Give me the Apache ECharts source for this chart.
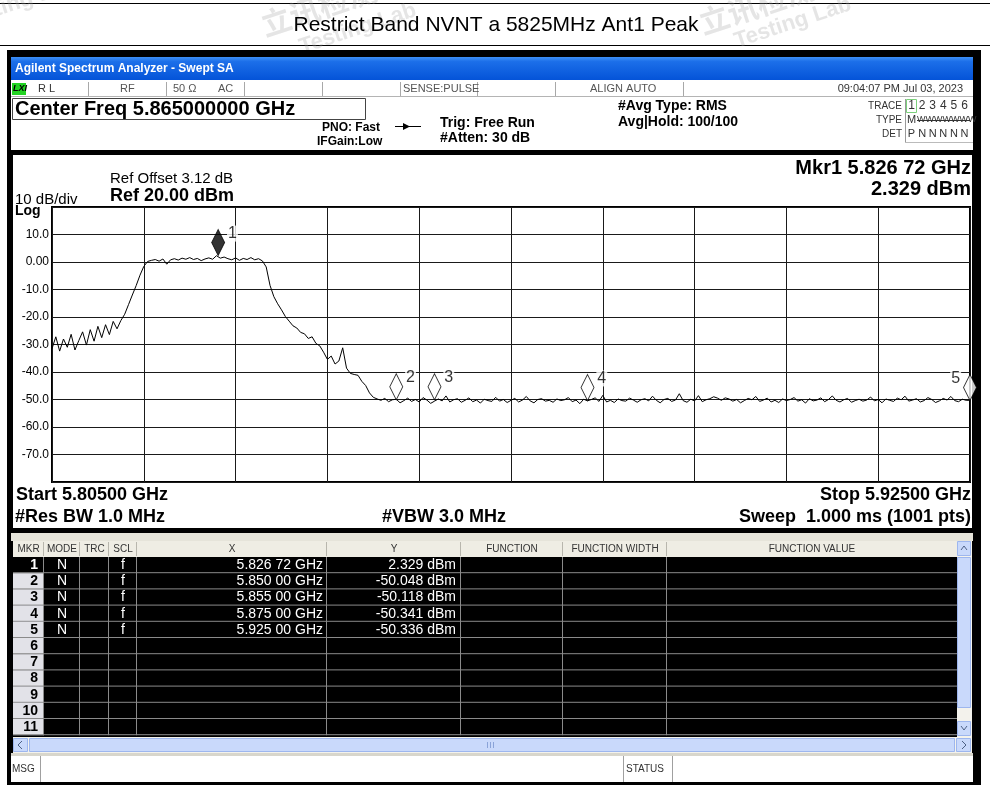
<!DOCTYPE html>
<html>
<head>
<meta charset="utf-8">
<script src="https://cdn.jsdelivr.net/npm/echarts@6/dist/echarts.min.js"></script>
<style>
html, body { margin: 0; padding: 0; background: #fff; }
#main { width: 990px; height: 789px; }
</style>
</head>
<body>
<div id="main"></div>
<script>
var chartDom = document.getElementById('main');
var myChart = echarts.init(chartDom, null);

// ---- data ----
var pageTitle = 'Restrict Band NVNT a 5825MHz Ant1 Peak';
var startMHz = 5805;
var stopMHz = 5925;
var stepMHz = 0.5;   // one trace value every 0.5 MHz
var traceDbm = [
  -31.5, -27.2, -32.4, -28.0, -31.0, -26.3, -32.0, -28.6, -25.4, -30.2,
  -24.6, -28.8, -23.4, -27.5, -22.8, -26.4, -21.6, -24.3, -21.3, -19.0,
  -15.5, -12.0, -8.6, -4.8, -1.6, 0.2, 0.6, 0.9, 0.3, 1.1,
  -0.8, 0.8, 1.2, 0.7, 1.4, 1.0, 1.6, 0.9, 1.3, 0.5,
  1.1, 1.5, 1.0, 2.3, 1.4, 1.8, 1.2, 0.8, 1.5, 0.6,
  1.3, 0.9, 1.6, 0.8, 1.2, 0.4, -1.8, -8.5, -12.6, -15.2,
  -17.4, -19.8, -21.5, -23.2, -24.0, -25.6, -26.1, -27.8, -27.2, -29.6,
  -30.5, -32.8, -35.4, -34.2, -37.1, -36.0, -31.2, -38.6, -40.5, -40.9,
  -41.2, -43.4, -44.9, -47.6, -49.2, -49.8,
  -50.3, -49.6, -50.8, -50.1, -49.9, -51.2, -50.4, -49.5, -50.7, -50.0,
  -50.9, -49.3, -50.2, -51.4, -50.6, -49.8, -50.5, -48.7, -50.9, -50.1,
  -49.7, -51.0, -50.3, -49.4, -50.8, -50.2, -51.3, -49.9, -50.4, -50.7,
  -49.2, -50.6, -50.0, -51.1, -50.3, -49.6, -50.9, -50.2, -48.9, -50.5,
  -51.2, -50.0, -49.7, -50.6, -50.3, -51.0, -49.8, -50.4, -50.1, -49.3,
  -50.8, -50.2, -51.5, -49.9, -50.5, -50.0, -49.4, -50.7, -48.5, -50.9,
  -50.3, -51.1, -49.8, -50.4, -50.6, -49.5, -50.2, -51.0, -50.1, -49.7,
  -50.5, -48.8, -50.3, -51.2, -50.0, -49.6, -50.7, -50.2, -47.9, -50.4,
  -51.0, -49.9, -50.5, -48.6, -50.8, -50.1, -49.7, -49.0, -49.5, -50.3,
  -49.4, -49.8, -50.6, -50.0, -51.2, -50.4, -49.6, -50.1, -48.9, -50.7,
  -50.2, -49.5, -50.9, -50.3, -51.1, -49.8, -50.4, -50.0, -49.3, -50.6,
  -50.1, -51.3, -49.7, -50.5, -50.2, -49.4, -50.8, -50.0, -48.7, -50.3,
  -50.9, -50.1, -49.6, -51.0, -50.4, -49.9, -50.6, -50.2, -49.1, -50.5,
  -50.0, -51.2, -49.8, -50.3, -50.7, -49.5, -50.1, -48.8, -50.6, -50.2,
  -49.7, -50.9, -50.4, -49.3, -50.0, -51.1, -50.5, -49.6, -50.2, -48.9,
  -50.4, -50.8, -49.9, -50.3, -50.3
];
var markerNames = ['1', '2', '3', '4', '5'];
var markerFreqMHz = [5826.72, 5850.00, 5855.00, 5875.00, 5925.00];
var markerDbm = [2.329, -50.048, -50.118, -50.341, -50.336];
var markerMode = ['N', 'N', 'N', 'N', 'N'];
var markerScale = ['f', 'f', 'f', 'f', 'f'];
var yTickValues = [10, 0, -10, -20, -30, -40, -50, -60, -70];
var yTickLabels = ['10.0', '0.00', '-10.0', '-20.0', '-30.0', '-40.0', '-50.0', '-60.0', '-70.0'];
var tableHeads = ['MKR', 'MODE', 'TRC', 'SCL', 'X', 'Y', 'FUNCTION', 'FUNCTION WIDTH', 'FUNCTION VALUE'];
var traceNums = ['1', '2', '3', '4', '5', '6'];
var traceDet = ['P', 'N', 'N', 'N', 'N', 'N'];

function ghzText(mhz) {
  var s = (mhz / 1000).toFixed(5);
  return s.slice(0, 5) + ' ' + s.slice(5) + ' GHz';
}

var traceData = traceDbm.map(function (v, i) { return [startMHz + i * stepMHz, v]; });
var markerData = markerFreqMHz.map(function (f, i) {
  var item = {name: markerNames[i], value: [f, markerDbm[i]]};
  if (i === 0) {
    item.itemStyle = {color: '#000', borderColor: '#000'};
  }
  if (i === markerFreqMHz.length - 1) {
    item.label = {position: 'left'};
  }
  return item;
});

// ---- instrument window drawn with graphic elements ----
var FONT = '"Liberation Sans", Arial, sans-serif';
var g = [];
function box(x, y, w, h, fill, stroke, lw) {
  g.push({type: 'rect', silent: true, shape: {x: x, y: y, width: w, height: h},
    style: {fill: fill || 'none', stroke: stroke || null, lineWidth: lw || 1}});
}
function seg(x1, y1, x2, y2, color, lw) {
  g.push({type: 'line', silent: true, shape: {x1: x1, y1: y1, x2: x2, y2: y2},
    style: {stroke: color || '#000', lineWidth: lw || 1}});
}
function poly(points, fill, stroke) {
  g.push({type: fill ? 'polygon' : 'polyline', silent: true, shape: {points: points},
    style: {fill: fill || 'none', stroke: stroke || null, lineWidth: 1}});
}
function txt(x, y, str, size, opts) {
  opts = opts || {};
  var al = opts.align || 'left';
  g.push({type: 'text', silent: true, x: x, y: y, rotation: opts.rot || 0,
    style: {text: str, x: 0, y: 0,
      font: (opts.weight || 'normal') + ' ' + size + 'px ' + (opts.family || FONT),
      fill: opts.color || '#000', textAlign: al, align: al,
      textVerticalAlign: 'middle', verticalAlign: 'middle'}});
}

// page heading
seg(0, 3.5, 990, 3.5, '#000', 1);
seg(0, 45.5, 990, 45.5, '#000', 1);
// faint watermark
var wm = 'rgba(160,160,160,0.28)';
txt(262, 26, '立讯检测', 30, {color: wm, rot: 0.32, family: '"Noto Sans CJK SC"', weight: 'bold'});
txt(300, 48, 'Testing Lab', 22, {color: wm, rot: 0.32, weight: 'bold'});
txt(700, 24, '立讯检测', 30, {color: wm, rot: 0.32, family: '"Noto Sans CJK SC"', weight: 'bold'});
txt(735, 42, 'Testing Lab', 22, {color: wm, rot: 0.32, weight: 'bold'});
txt(-40, 22, 'Testing Lab', 22, {color: wm, rot: 0.32, weight: 'bold'});
txt(496, 25, pageTitle, 21, {align: 'center'});

// window frame and title bar
box(7, 50, 974, 735, '#000');
box(11, 57, 962, 23, new echarts.graphic.LinearGradient(0, 0, 0, 1, [
  {offset: 0, color: '#3d8ff6'}, {offset: 0.2, color: '#1c6fe9'}, {offset: 1, color: '#0453d8'}
]));
txt(15, 69, 'Agilent Spectrum Analyzer - Swept SA', 12, {weight: 'bold', color: '#fff'});

// header area
box(11, 80, 962, 70, '#fff');
seg(11, 96.5, 973, 96.5, '#b4b4b4');
box(12, 83, 14, 12, '#22d322');
txt(13, 89, 'LXI', 9, {weight: 'italic bold'});
txt(38, 89, 'R L', 11, {color: '#333'});
[88.5, 166.5, 244.5, 322.5, 400.5, 477.5, 555.5, 683.5].forEach(function (x) {
  seg(x, 82, x, 96, '#a8a8a8');
});
txt(120, 89, 'RF', 11, {color: '#555'});
txt(173, 89, '50 Ω', 11, {color: '#555'});
txt(218, 89, 'AC', 11, {color: '#555'});
txt(403, 89, 'SENSE:PULSE', 11, {color: '#555'});
txt(590, 89, 'ALIGN AUTO', 11, {color: '#555'});
txt(963, 89, '09:04:07 PM Jul 03, 2023', 11, {color: '#333', align: 'right'});

box(12.5, 98.5, 353, 21, '#fff', '#444');
txt(15, 109.5, 'Center Freq ' + (((startMHz + stopMHz) / 2) / 1000).toFixed(9) + ' GHz', 20, {weight: 'bold'});
txt(322, 128, 'PNO: Fast', 12, {weight: 'bold'});
txt(317, 142, 'IFGain:Low', 12, {weight: 'bold'});
seg(395, 126.5, 421, 126.5, '#000');
poly([[403, 123], [403, 130], [410, 126.5]], '#000');
txt(440, 123, 'Trig: Free Run', 14, {weight: 'bold'});
txt(440, 138, '#Atten: 30 dB', 14, {weight: 'bold'});
txt(618, 106, '#Avg Type: RMS', 14, {weight: 'bold'});
txt(618, 122, 'Avg|Hold: 100/100', 14, {weight: 'bold'});

txt(902, 106, 'TRACE', 10, {align: 'right', color: '#333'});
txt(902, 120, 'TYPE', 10, {align: 'right', color: '#333'});
txt(902, 134, 'DET', 10, {align: 'right', color: '#333'});
seg(905.5, 99, 905.5, 142, '#999');
seg(905, 142.5, 973, 142.5, '#bbb');
box(906.5, 99.5, 10, 13, null, '#7cd07c');
traceNums.forEach(function (n, k) {
  txt(911.5 + k * 10.6, 106, n, 12, {align: 'center', color: '#333'});
  txt(911.5 + k * 10.6, 134, traceDet[k], 11, {align: 'center', color: '#333'});
});
txt(911.5, 120, 'M', 11, {align: 'center', color: '#333'});
txt(917, 120, 'WWWWWWW', 9, {color: '#333'});
seg(917, 120.5, 970, 120.5, '#333');

// plot panel
box(11, 150, 963, 383, '#000');
box(13, 155, 959, 373, '#fff');
txt(110, 179, 'Ref Offset 3.12 dB', 15);
txt(110, 196, 'Ref 20.00 dBm', 18, {weight: 'bold'});
txt(15, 200, '10 dB/div', 15);
txt(15, 211, 'Log', 14, {weight: 'bold'});
txt(971, 168, 'Mkr1 ' + ghzText(markerFreqMHz[0]), 20, {weight: 'bold', align: 'right'});
txt(971, 189, markerDbm[0].toFixed(3) + ' dBm', 20, {weight: 'bold', align: 'right'});
txt(16, 495, 'Start ' + (startMHz / 1000).toFixed(5) + ' GHz', 18, {weight: 'bold'});
txt(15, 517, '#Res BW 1.0 MHz', 18, {weight: 'bold'});
txt(382, 517, '#VBW 3.0 MHz', 18, {weight: 'bold'});
txt(971, 495, 'Stop ' + (stopMHz / 1000).toFixed(5) + ' GHz', 18, {weight: 'bold', align: 'right'});
txt(971, 517, 'Sweep  1.000 ms (1001 pts)', 18, {weight: 'bold', align: 'right'});

// gap between panel and table
box(11, 533, 962, 8, '#e6e4da');

// marker table
var colEdges = [13, 44, 80, 109, 137, 327, 461, 563, 667, 957];
var rowTop = 557, rowH = 16.2, rowCount = 11;
box(13, 541, 959, 196, '#000');
box(13, 541, 944, 16, '#efede4');
tableHeads.forEach(function (h, c) {
  txt((colEdges[c] + colEdges[c + 1]) / 2, 549, h, 10, {align: 'center', color: '#333'});
  if (c > 0) seg(colEdges[c] - 0.5, 542, colEdges[c] - 0.5, 556, '#b8b6ad');
});
for (var r = 0; r < rowCount; r++) {
  var y = rowTop + r * rowH;
  box(13, y, 31, rowH, r === 0 ? '#000' : '#e2e2e8');
  txt(38, y + rowH / 2, String(r + 1), 14, {weight: 'bold', align: 'right', color: r === 0 ? '#fff' : '#000'});
  seg(13, y + rowH - 0.5, 957, y + rowH - 0.5, '#8a8a8a');
}
for (var c = 1; c < colEdges.length - 1; c++) {
  seg(colEdges[c] - 0.5, rowTop, colEdges[c] - 0.5, rowTop + rowCount * rowH, '#8a8a8a');
}
markerFreqMHz.forEach(function (f, i) {
  var y = rowTop + i * rowH + rowH / 2;
  txt(62, y, markerMode[i], 14, {align: 'center', color: '#fff'});
  txt(123, y, markerScale[i], 14, {align: 'center', color: '#fff'});
  txt(323, y, ghzText(f), 14, {align: 'right', color: '#fff'});
  txt(456, y, markerDbm[i].toFixed(3) + ' dBm', 14, {align: 'right', color: '#fff'});
});

// vertical scrollbar
box(957, 541, 15, 196, '#f3f2ec');
box(957.5, 541.5, 13, 14, '#c9d9fb', '#9db6ee');
poly([[961, 550], [964, 546], [967, 550]], null, '#4d6185');
box(957.5, 557.5, 13, 150, '#c9d9fb', '#9db6ee');
box(957.5, 721.5, 13, 14, '#c9d9fb', '#9db6ee');
poly([[961, 726], [964, 730], [967, 726]], null, '#4d6185');

// horizontal scrollbar
box(13, 737, 959, 16, '#f3f2ec');
box(13.5, 738.5, 14, 13, '#c9d9fb', '#9db6ee');
poly([[22, 741], [18, 745], [22, 749]], null, '#4d6185');
box(29.5, 738.5, 925, 13, '#c9d9fb', '#9db6ee');
[487.5, 490.5, 493.5].forEach(function (x) { seg(x, 742, x, 748, '#8aa3d8'); });
box(956.5, 738.5, 14, 13, '#c9d9fb', '#9db6ee');
poly([[962, 741], [966, 745], [962, 749]], null, '#4d6185');
box(11, 753, 962, 3, '#d8d6cc');

// message bar
box(11, 756, 962, 26, '#fff');
[40.5, 623.5, 672.5].forEach(function (x) { seg(x, 756, x, 782, '#a0a0a0'); });
txt(12, 769, 'MSG', 10, {color: '#333'});
txt(626, 769, 'STATUS', 10, {color: '#333'});

var option = {
  animation: false,
  backgroundColor: '#fff',
  graphic: {elements: g},
  grid: {
    left: 52, top: 207, width: 918, height: 275,
    show: true, backgroundColor: '#fff', borderColor: '#000', borderWidth: 2,
    z: 5, outerBoundsMode: 'none'
  },
  xAxis: {
    type: 'value', min: startMHz, max: stopMHz, interval: 12, z: 6,
    axisLine: {show: false}, axisTick: {show: false}, axisLabel: {show: false},
    splitLine: {show: true, lineStyle: {color: '#1a1a1a', width: 1}}
  },
  yAxis: {
    type: 'value', min: -80, max: 20, interval: 10, z: 6,
    axisLine: {show: false}, axisTick: {show: false},
    axisLabel: {
      margin: 3, fontSize: 12, fontFamily: FONT, color: '#000',
      formatter: function (v) {
        var k = yTickValues.indexOf(v);
        return k >= 0 ? yTickLabels[k] : '';
      }
    },
    splitLine: {show: true, lineStyle: {color: '#1a1a1a', width: 1}}
  },
  series: [
    {
      type: 'line',
      data: traceData,
      symbol: 'none',
      z: 8,
      lineStyle: {color: '#000', width: 1},
      silent: true
    },
    {
      type: 'scatter',
      data: markerData,
      z: 9,
      symbol: 'diamond',
      symbolSize: [13, 26],
      symbolOffset: [0, -13],
      itemStyle: {color: '#fff', borderColor: '#000', borderWidth: 1},
      label: {
        show: true, position: 'right', distance: 2, offset: [0, -9],
        formatter: '{b}', fontSize: 16, fontFamily: FONT, color: '#000',
        backgroundColor: '#fff', padding: [0, 1]
      },
      silent: true
    }
  ]
};

myChart.setOption(option);
</script>
</body>
</html>
